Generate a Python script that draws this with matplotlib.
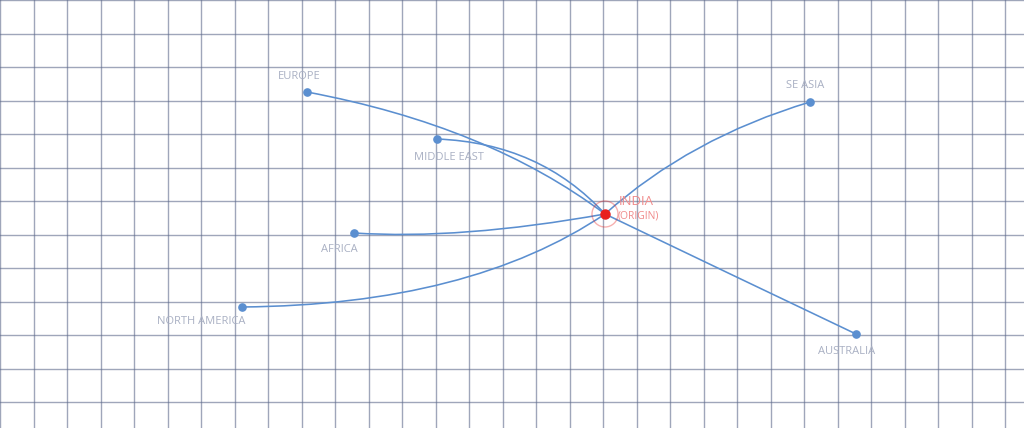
import numpy as np
import matplotlib
matplotlib.use("Agg")
import matplotlib.pyplot as plt
from matplotlib.path import Path
from matplotlib.patches import PathPatch, Circle


# ── Data (canvas units, y grows downward) ────────────────────

ORIGIN_NAME = "INDIA"
ORIGIN_SUB = "(ORIGIN)"
ORIGIN_X, ORIGIN_Y = 605, 214

regions  = ["EUROPE", "MIDDLE EAST", "SE ASIA", "AFRICA", "NORTH AMERICA", "AUSTRALIA"]
region_x = [307, 437, 810, 354, 242, 856]
region_y = [92, 139, 102, 233, 307, 334]
# bend point of each route (quadratic curve control)
ctrl_x   = [488, 540, 690, 460, 470, 730]
ctrl_y   = [126, 143, 138, 240, 305, 274]

# ── Style ────────────────────────────────────────────────────

ROUTE   = "#5b8fd0"
GRID    = "#5f6b8c"
LABEL   = "#a9b0c3"
RED     = "#e8201e"
RED_TXT = "#f08a8a"
GRID_STEP = 33.5

# label offset from each dot (dx, dy)
LABEL_OFFSETS = {
    "EUROPE":        (-8, -16),
    "MIDDLE EAST":   (12, 18),
    "SE ASIA":       (-5, -17),
    "AFRICA":        (-15, 16),
    "NORTH AMERICA": (-41, 15),
    "AUSTRALIA":     (-9, 18),
}

plt.rcParams["font.family"] = ["Open Sans", "DejaVu Sans"]

fig = plt.figure(figsize=(10.24, 4.28), dpi=100)
ax = fig.add_axes([0, 0, 1, 1])
ax.set_xlim(0, 1024)
ax.set_ylim(428, 0)

ax.set_xticks(np.arange(0, 1024, GRID_STEP))
ax.set_yticks(np.arange(0, 428, GRID_STEP))
ax.grid(True, color=GRID, alpha=0.6, linewidth=1.0)
ax.tick_params(length=0, labelbottom=False, labelleft=False)
for sp in ax.spines.values():
    sp.set_visible(False)

# routes
for name, x, y, cx, cy in zip(regions, region_x, region_y, ctrl_x, ctrl_y):
    path = Path([(x, y), (cx, cy), (ORIGIN_X, ORIGIN_Y)],
                [Path.MOVETO, Path.CURVE3, Path.CURVE3])
    ax.add_patch(PathPatch(path, facecolor="none", edgecolor=ROUTE,
                           linewidth=1.15, zorder=3))

ax.plot(region_x, region_y, "o", color=ROUTE, markersize=5.2,
        linestyle="none", zorder=4)

for name, x, y in zip(regions, region_x, region_y):
    dx, dy = LABEL_OFFSETS[name]
    ax.text(x + dx, y + dy, name, color=LABEL, fontsize=8,
            ha="center", va="center", zorder=5)

# origin
ax.add_patch(Circle((ORIGIN_X, ORIGIN_Y), 13, facecolor="none",
                    edgecolor=RED, alpha=0.35, linewidth=1.0, zorder=4))
ax.plot([ORIGIN_X], [ORIGIN_Y], "o", color=RED, markersize=6.5, zorder=6)
ax.text(ORIGIN_X + 14, ORIGIN_Y - 13, ORIGIN_NAME, color=RED_TXT,
        fontsize=9.5, ha="left", va="center", zorder=5)
ax.text(ORIGIN_X + 13, ORIGIN_Y + 2, ORIGIN_SUB, color=RED_TXT,
        fontsize=7.5, ha="left", va="center", zorder=5)

fig.savefig("out.png", dpi=100)
